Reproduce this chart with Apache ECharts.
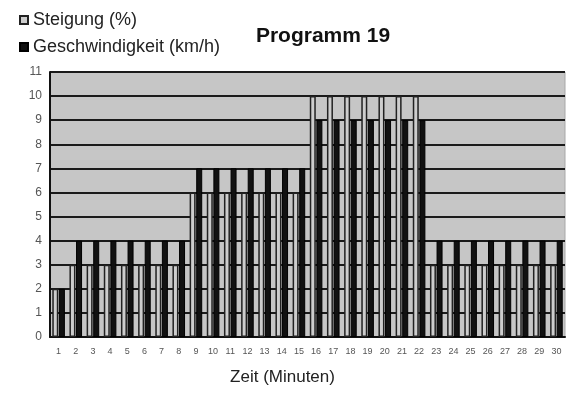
<!DOCTYPE html>
<html>
<head>
<meta charset="utf-8">
<script src="https://cdn.jsdelivr.net/npm/echarts@6/dist/echarts.min.js"></script>
<style>
  html, body { margin: 0; padding: 0; background: #fff; }
  #chart { width: 573px; height: 409px; }
</style>
</head>
<body>
<div id="chart"></div>
<script>
// Minutes 1..30
const minutes = Array.from({ length: 30 }, (_, i) => String(i + 1));

// Steigung (%) per minute
const steigung = [
  2, 3, 3, 3, 3, 3, 3, 3,
  6, 6, 6, 6, 6, 6, 6,
  10, 10, 10, 10, 10, 10, 10,
  3, 3, 3, 3, 3, 3, 3, 3,
];

// Geschwindigkeit (km/h) per minute
const geschwindigkeit = [
  2, 4, 4, 4, 4, 4, 4, 4,
  7, 7, 7, 7, 7, 7, 7,
  9, 9, 9, 9, 9, 9, 9,
  4, 4, 4, 4, 4, 4, 4, 4,
];

const chart = echarts.init(document.getElementById('chart'));

chart.setOption({
  animation: false,
  textStyle: { fontFamily: 'Liberation Sans, Arial, sans-serif' },
  title: {
    text: 'Programm 19',
    left: 318,
    top: 21,
    textAlign: 'center',
    textStyle: { fontSize: 21, fontWeight: 'bold', color: '#111' },
  },
  legend: {
    orient: 'vertical',
    left: 14,
    top: 6,
    itemWidth: 8,
    itemHeight: 8,
    itemGap: 9,
    icon: 'rect',
    textStyle: { fontSize: 18, color: '#222' },
    data: ['Steigung (%)', 'Geschwindigkeit (km/h)'],
  },
  grid: {
    left: 50,
    right: 8,
    top: 72,
    bottom: 72,
    containLabel: false,
    show: true,
    backgroundColor: '#c6c6c6',
    borderColor: '#a8a8a8',
    borderWidth: 1,
  },
  xAxis: {
    type: 'category',
    data: minutes,
    name: 'Zeit (Minuten)',
    nameLocation: 'middle',
    nameGap: 32,
    nameTextStyle: { fontSize: 17, color: '#222', padding: [0, 50, 0, 0] },
    axisLine: { lineStyle: { color: '#111', width: 2 } },
    axisTick: { show: false },
    axisLabel: { fontSize: 9, color: '#555', margin: 10, interval: 0 },
  },
  yAxis: {
    type: 'value',
    min: 0,
    max: 11,
    interval: 1,
    axisLine: { show: true, lineStyle: { color: '#111', width: 2 } },
    axisTick: { show: false },
    axisLabel: { fontSize: 12, color: '#555', margin: 8 },
    splitLine: { lineStyle: { color: '#1a1a1a', width: 2 } },
  },
  series: [
    {
      name: 'Steigung (%)',
      type: 'bar',
      data: steigung,
      barWidth: 6,
      barGap: '10%',
      itemStyle: { color: '#cdcdcd', borderColor: '#222', borderWidth: 1.5 },
    },
    {
      name: 'Geschwindigkeit (km/h)',
      type: 'bar',
      data: geschwindigkeit,
      barWidth: 6,
      itemStyle: { color: '#111', borderColor: '#000', borderWidth: 1 },
    },
  ],
});
</script>
</body>
</html>
